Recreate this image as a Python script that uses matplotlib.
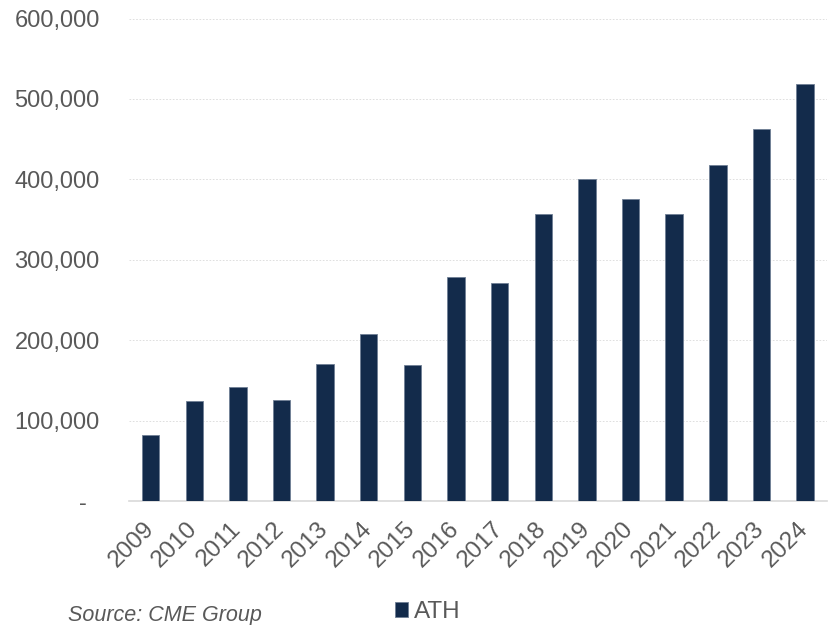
import matplotlib.pyplot as plt
import matplotlib.ticker as mticker
import matplotlib.transforms as mtransforms

plt.rcParams['font.family'] = ['Liberation Sans', 'DejaVu Sans']

years = ['2009', '2010', '2011', '2012', '2013', '2014', '2015', '2016',
         '2017', '2018', '2019', '2020', '2021', '2022', '2023', '2024']
ath = [82000, 124500, 142300, 125000, 170600, 207600, 169400, 279000,
       271500, 357400, 399800, 375700, 357400, 418000, 462900, 518000]

bar_color = '#132b4b'
text_color = '#595959'

fig = plt.figure(figsize=(8.31, 6.25), dpi=100)
ax = fig.add_axes([0.155, 0.1984, 0.84, 0.772])

x = range(len(years))
ax.bar(x, ath, width=0.4, color=bar_color, edgecolor='#6f7f95', linewidth=0.6,
       label='ATH', zorder=3)

ax.set_xlim(-0.5, len(years) - 0.5)
ax.set_ylim(0, 600000)
ax.set_yticks(range(0, 600001, 100000))


def fmt(v, pos):
    # accounting style: zero shown as a dash
    return '-  ' if v == 0 else f'{int(v):,}'


ax.yaxis.set_major_formatter(mticker.FuncFormatter(fmt))
ax.grid(axis='y', color='#d9d9d9', linestyle=(0, (2, 2)), linewidth=0.6, zorder=0)

ax.set_xticks(list(x))
ax.set_xticklabels(years, rotation=45, ha='right', rotation_mode='anchor')

for s in ['top', 'right', 'left']:
    ax.spines[s].set_visible(False)
ax.spines['bottom'].set_color('#d9d9d9')
ax.spines['bottom'].set_linewidth(1.2)

ax.tick_params(axis='both', length=0, colors=text_color)
ax.tick_params(axis='y', pad=21, labelsize=17)
ax.tick_params(axis='x', pad=12, labelsize=17.5)

# nudge the rotated year labels a little to the left
shift = mtransforms.ScaledTranslation(-8 / 100, 0, fig.dpi_scale_trans)
for lbl in ax.get_xticklabels():
    lbl.set_transform(lbl.get_transform() + shift)

fig.text(0.082, -0.002, 'Source: CME Group', fontsize=15.5, style='italic',
         color=text_color, ha='left', va='bottom')

leg = fig.legend(loc='lower left', bbox_to_anchor=(0.449, -0.032), frameon=False,
                 fontsize=17.5, handlelength=0.55, handleheight=0.55, handletextpad=0.25)
for t in leg.get_texts():
    t.set_color(text_color)

fig.savefig('out.png', dpi=100)
